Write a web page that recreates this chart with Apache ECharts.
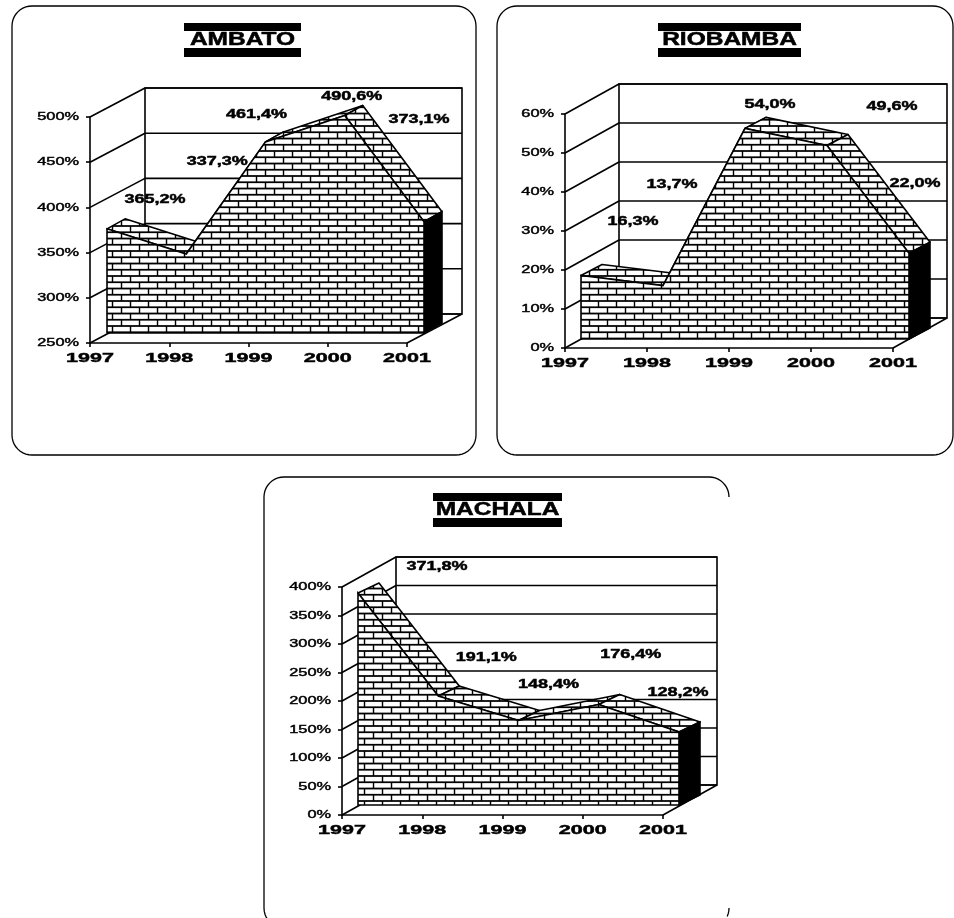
<!DOCTYPE html>
<html>
<head>
<meta charset="utf-8">
<style>html,body{margin:0;padding:0;background:#fff}#c{width:954px;height:918px}</style>
<script src="https://cdn.jsdelivr.net/npm/echarts@6/dist/echarts.min.js"></script>
</head>
<body>
<div id="c"></div>
<script>
// ---- data ----
const years = ['1997', '1998', '1999', '2000', '2001'];
const ambatoTitle = 'AMBATO';
const ambatoValues = [365.2, 337.3, 461.4, 490.6, 373.1];
const ambatoTicks = [250, 300, 350, 400, 450, 500];
const riobambaTitle = 'RIOBAMBA';
const riobambaValues = [16.3, 13.7, 54.0, 49.6, 22.0];
const riobambaTicks = [0, 10, 20, 30, 40, 50, 60];
const machalaTitle = 'MACHALA';
const machalaValues = [371.8, 191.1, 148.4, 176.4, 128.2];
const machalaTicks = [0, 50, 100, 150, 200, 250, 300, 350, 400];

// ---- layout ----
const panels = [
  { title: ambatoTitle, values: ambatoValues, ticks: ambatoTicks,
    grid: { left: 90, top: 117, width: 317, height: 226 },
    wall: [55, -29], front: [17, -10], back: [35, -20],
    bar: [184, 301, 23, 31, 48, 57], titleY: 40,
    labelShift: [[48, -29], [31, -92], [-9, -27], [7, -19], [-5, -102]] },
  { title: riobambaTitle, values: riobambaValues, ticks: riobambaTicks,
    grid: { left: 565, top: 114, width: 328, height: 234 },
    wall: [54, -30], front: [16, -9], back: [37, -20],
    bar: [658, 801, 23, 31, 48, 57], titleY: 40,
    labelShift: [[52, -54], [9, -101], [25, -24], [65, -39], [6, -70]] },
  { title: machalaTitle, values: machalaValues, ticks: machalaTicks,
    grid: { left: 342, top: 587, width: 321, height: 228 },
    wall: [54, -30], front: [16, -10], back: [37, -20],
    bar: [433, 562, 493, 501, 518, 527], titleY: 510,
    labelShift: [[79, -26], [48, -38], [30, -36], [32, -50], [-1, -39]] }
];
const LINE = 1.6;
const TEXT_WEIGHT = 0.45;

// brick hatch tile
function brickTile() {
  const c = document.createElement('canvas');
  c.width = 36; c.height = 25;
  const g = c.getContext('2d');
  g.fillStyle = '#fff'; g.fillRect(0, 0, 36, 25);
  g.strokeStyle = '#000';
  g.lineWidth = 3.6;
  g.beginPath();
  g.moveTo(0, 2); g.lineTo(36, 2);
  g.moveTo(0, 14.5); g.lineTo(36, 14.5);
  g.stroke();
  g.lineWidth = 2.8;
  g.beginPath();
  g.moveTo(9, 2); g.lineTo(9, 14.5);
  g.moveTo(27, 14.5); g.lineTo(27, 25);
  g.moveTo(27, 0); g.lineTo(27, 2);
  g.stroke();
  return c;
}
const brick = { image: brickTile(), repeat: 'repeat', scaleX: 0.5, scaleY: 0.5 };

const shift = (p, o) => [p[0] + o[0], p[1] + o[1]];
const ln = (a, b) => ({ type: 'line', shape: { x1: a[0], y1: a[1], x2: b[0], y2: b[1] }, style: { stroke: '#000', lineWidth: LINE } });
const txt = (x, y, text, font, scaleX, align) => ({
  type: 'text', x, y, scaleX,
  style: { text, font, fill: '#000', stroke: '#000', lineWidth: TEXT_WEIGHT, align: align || 'center', verticalAlign: 'middle' }
});

function wallItem(p) {
  return function (params, api) {
    const n = years.length - 1, lo = p.ticks[0], hi = p.ticks[p.ticks.length - 1];
    const a = shift(api.coord([0, hi]), p.wall), b = shift(api.coord([n, hi]), p.wall);
    const c = shift(api.coord([n, lo]), p.wall), d = shift(api.coord([0, lo]), p.wall);
    const kids = [{ type: 'polygon', shape: { points: [a, b, c, d] }, style: { fill: '#fff', stroke: '#000', lineWidth: LINE } }];
    p.ticks.forEach(t => {
      const f = api.coord([0, t]);
      kids.push(ln(f, shift(f, p.wall)));
      kids.push(ln(shift(f, p.wall), shift(api.coord([n, t]), p.wall)));
    });
    kids.push(ln(api.coord([n, lo]), c));
    return { type: 'group', children: kids };
  };
}

function solidItem(p) {
  return function (params, api) {
    const n = years.length - 1, lo = p.ticks[0];
    const pts = p.values.map((v, i) => api.coord([i, v]));
    const frontPts = pts.map(q => shift(q, p.front));
    const backPts = pts.map(q => shift(q, p.back));
    const baseR = api.coord([n, lo]), baseL = api.coord([0, lo]);
    const kids = [];
    for (let i = 0; i < n; i++) {
      kids.push({ type: 'polygon', shape: { points: [frontPts[i], backPts[i], backPts[i + 1], frontPts[i + 1]] },
        style: { fill: brick, stroke: '#000', lineWidth: LINE, lineJoin: 'round' } });
    }
    kids.push({ type: 'polygon', shape: { points: [frontPts[n], backPts[n], shift(baseR, p.back), shift(baseR, p.front)] },
      style: { fill: '#000', stroke: '#000', lineWidth: LINE } });
    kids.push({ type: 'polygon', shape: { points: [shift(baseL, p.front)].concat(frontPts, [shift(baseR, p.front)]) },
      style: { fill: brick, stroke: '#000', lineWidth: LINE } });
    return { type: 'group', children: kids };
  };
}

function textItem(p) {
  return function (params, api) {
    const kids = [];
    p.values.forEach((v, i) => {
      const q = shift(shift(api.coord([i, v]), p.front), p.labelShift[i]);
      kids.push(txt(q[0], q[1], v.toFixed(1).replace('.', ',') + '%', 'bold 12px "Liberation Sans"', 1.5));
    });
    const lo = p.ticks[0];
    years.forEach((y, i) => {
      const q = api.coord([i, lo]);
      kids.push(txt(q[0], q[1] + 15.5, y, 'bold 12.5px "Liberation Sans"', 1.72));
    });
    p.ticks.forEach(t => {
      const q = api.coord([0, t]);
      kids.push(txt(q[0] - 11, q[1], t + '%', '11.5px "Liberation Sans"', 1.42, 'right'));
    });
    return { type: 'group', children: kids };
  };
}

// ---- frames drawn as sampled rounded outlines ----
function corner(cx, cy, r, from, to) {
  const out = [];
  for (let i = 0; i <= 10; i++) {
    const a = (from + (to - from) * i / 10) * Math.PI / 180;
    out.push([cx + r * Math.cos(a), cy + r * Math.sin(a)]);
  }
  return out;
}
function frame(x0, y0, x1, y1, r) {
  return [].concat(corner(x0 + r, y0 + r, r, 180, 270), corner(x1 - r, y0 + r, r, 270, 360),
    corner(x1 - r, y1 - r, r, 0, 90), corner(x0 + r, y1 - r, r, 90, 180), [[x0, y0 + r]]);
}
const outline = pts => ({ type: 'polyline', shape: { points: pts }, style: { stroke: '#000', fill: null, lineWidth: 1.3 }, silent: true });
const graphics = [
  outline(frame(12, 6, 476, 455, 20)),
  outline(frame(497, 6, 953, 455, 20)),
  outline([].concat(corner(709, 497, 20, 360, 270), corner(284, 497, 20, 270, 180), corner(284, 908, 20, 180, 90))),
  outline(corner(709, 908, 20, 0, 25))
];
panels.forEach(p => {
  const b = p.bar;
  [[b[2], b[3]], [b[4], b[5]]].forEach(r => graphics.push({
    type: 'rect', shape: { x: b[0], y: r[0], width: b[1] - b[0], height: r[1] - r[0] }, style: { fill: '#000' }, silent: true }));
  graphics.push({ type: 'text', x: (b[0] + b[1]) / 2, y: p.titleY, scaleX: 1.36,
    style: { text: p.title, font: 'bold 18px "Liberation Sans"', fill: '#000', stroke: '#000', lineWidth: 0.5, align: 'center', verticalAlign: 'middle' }, silent: true });
});

// ---- chart ----
const axisLine = { show: true, lineStyle: { color: '#000', width: LINE } };
const series = [];
panels.forEach((p, i) => {
  [wallItem(p), solidItem(p), textItem(p)].forEach(fn => series.push({
    type: 'custom', xAxisIndex: i, yAxisIndex: i, renderItem: fn, silent: true, clip: false,
    data: [[0, p.ticks[0]]]
  }));
});
const chart = echarts.init(document.getElementById('c'), null, { width: 954, height: 918 });
chart.setOption({
  animation: false,
  backgroundColor: '#fff',
  tooltip: { show: false },
  graphic: graphics,
  grid: panels.map(p => Object.assign({ containLabel: false }, p.grid)),
  xAxis: panels.map((p, i) => ({
    type: 'category', gridIndex: i, data: years, boundaryGap: false,
    axisLine, axisTick: { show: true, length: 4, lineStyle: { color: '#000', width: LINE } },
    axisLabel: { show: false }, splitLine: { show: false }
  })),
  yAxis: panels.map((p, i) => ({
    type: 'value', gridIndex: i, min: p.ticks[0], max: p.ticks[p.ticks.length - 1],
    interval: p.ticks[1] - p.ticks[0],
    axisLine, axisTick: { show: true, length: 4, lineStyle: { color: '#000', width: LINE } },
    axisLabel: { show: false }, splitLine: { show: false }
  })),
  series
});
</script>
</body>
</html>
